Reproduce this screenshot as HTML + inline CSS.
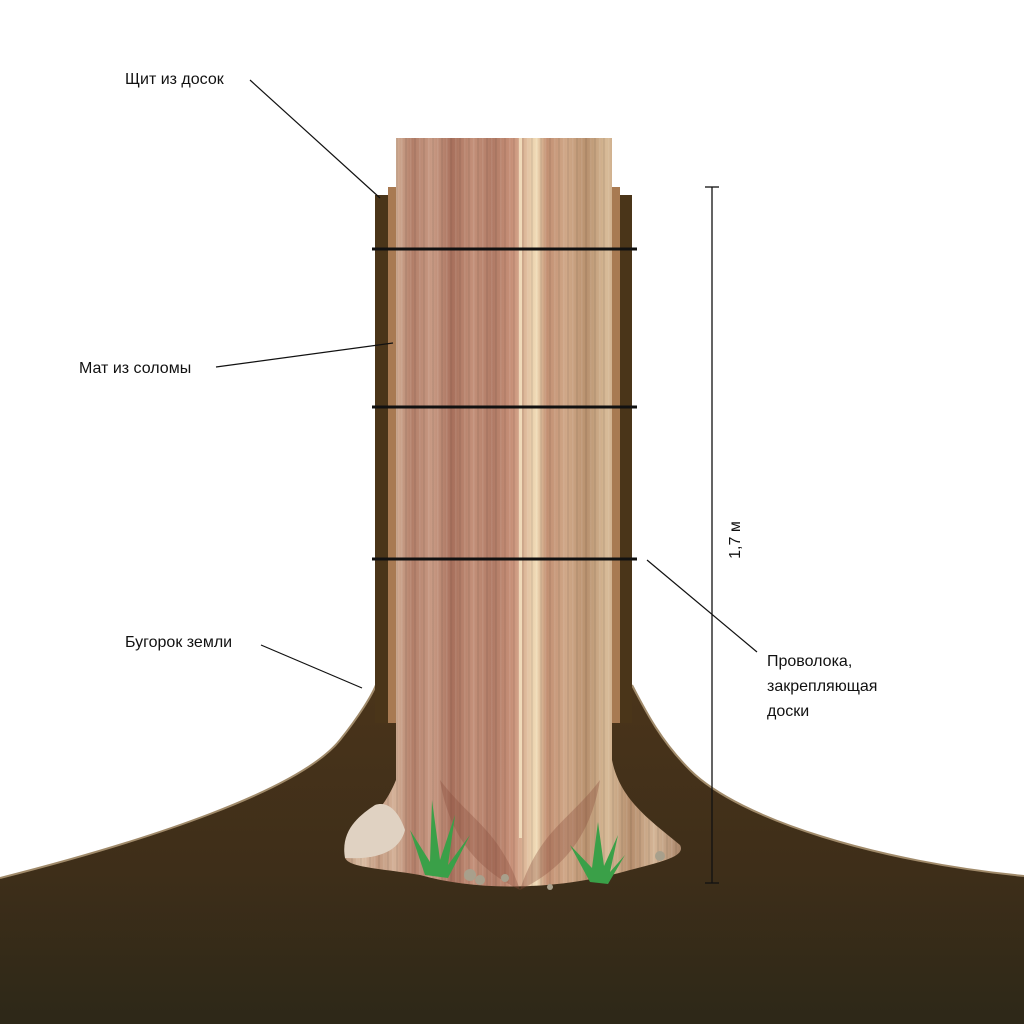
<!DOCTYPE html>
<html><head><meta charset="utf-8"><style>
html,body{margin:0;padding:0;background:#fff;}
svg{display:block;}
text{font-family:"Liberation Sans",sans-serif;font-size:16px;fill:#111;}
</style></head><body>
<svg width="1024" height="1024" viewBox="0 0 1024 1024" xmlns="http://www.w3.org/2000/svg">
<defs>
<linearGradient id="gnd" x1="0" y1="0" x2="0" y2="1">
<stop offset="0" stop-color="#4a341a"/><stop offset="0.55" stop-color="#3e2e19"/><stop offset="1" stop-color="#2d2818"/>
</linearGradient>
<linearGradient id="trk" x1="0" y1="0" x2="1" y2="0">
<stop offset="0" stop-color="#b89276"/><stop offset="0.05" stop-color="#dcbfa5"/><stop offset="0.1" stop-color="#c39a80"/>
<stop offset="0.15" stop-color="#d4b198"/><stop offset="0.2" stop-color="#b27e68"/><stop offset="0.26" stop-color="#c99b85"/>
<stop offset="0.32" stop-color="#a8705c"/><stop offset="0.38" stop-color="#c39079"/><stop offset="0.44" stop-color="#b07a65"/>
<stop offset="0.5" stop-color="#c9927a"/><stop offset="0.57" stop-color="#f1ddb8"/><stop offset="0.6" stop-color="#c28f72"/>
<stop offset="0.66" stop-color="#d0a888"/><stop offset="0.72" stop-color="#b8916e"/><stop offset="0.78" stop-color="#d8bb98"/>
<stop offset="0.85" stop-color="#b58d6c"/><stop offset="0.92" stop-color="#d4b596"/><stop offset="1" stop-color="#a98569"/>
</linearGradient>
<pattern id="str" width="9" height="10" patternUnits="userSpaceOnUse">
<rect x="0" width="2" height="10" fill="#000" opacity="0.06"/><rect x="5" width="1.5" height="10" fill="#fff" opacity="0.08"/>
</pattern>
</defs>
<path d="M0 878 C150 840 300 790 340 740 C360 715 372 695 376 685 L632 685 C645 710 660 740 690 770 C740 820 880 862 1024 876 L1024 1024 L0 1024 Z" fill="url(#gnd)"/>
<path d="M0 878 C150 840 300 790 340 740 C360 715 372 695 376 685" fill="none" stroke="#a08a6a" stroke-width="2"/>
<path d="M632 685 C645 710 660 740 690 770 C740 820 880 862 1024 876" fill="none" stroke="#a08a6a" stroke-width="2"/>
<rect x="375" y="195" width="13" height="528" fill="#4a3519"/>
<rect x="388" y="187" width="10" height="536" fill="#a87a52"/>
<rect x="620" y="195" width="12" height="528" fill="#4a3519"/>
<rect x="610" y="187" width="10" height="536" fill="#a87a52"/>
<path d="M396 138 L612 138 L612 760 C620 800 650 820 680 845 C685 855 670 860 630 870 C560 890 480 892 420 875 C380 868 350 868 345 858 C345 840 380 820 396 780 Z" fill="url(#trk)"/>
<path d="M396 138 L612 138 L612 760 C620 800 650 820 680 845 C685 855 670 860 630 870 C560 890 480 892 420 875 C380 868 350 868 345 858 C345 840 380 820 396 780 Z" fill="url(#str)"/>
<path d="M440 780 C470 820 500 830 520 890 C540 830 570 820 600 780 C590 840 560 870 520 890 C480 870 450 840 440 780 Z" fill="#8a4c3c" opacity="0.35"/>
<rect x="519" y="138" width="3" height="700" fill="#f6e6c4" opacity="0.8"/>
<path d="M345 858 C340 830 360 815 375 805 C390 800 400 815 405 830 C400 850 380 860 345 858 Z" fill="#e0d2c2"/>
<g fill="#3aa048">
<path d="M425 875 L410 830 L430 862 L432 800 L440 860 L455 815 L448 865 L470 835 L448 878 Z"/>
<path d="M590 882 L570 845 L592 868 L598 822 L604 866 L618 835 L610 872 L625 855 L608 884 Z"/>
</g>
<g fill="#a8a08c"><circle cx="470" cy="875" r="6"/><circle cx="480" cy="880" r="5"/><circle cx="505" cy="878" r="4"/><circle cx="660" cy="856" r="5"/><circle cx="550" cy="887" r="3"/></g>
<g stroke="#111" stroke-width="3">
<line x1="372" y1="249" x2="637" y2="249"/><line x1="372" y1="407" x2="637" y2="407"/><line x1="372" y1="559" x2="637" y2="559"/>
</g>
<g stroke="#111" stroke-width="1.3">
<line x1="712" y1="187" x2="712" y2="883"/><line x1="705" y1="187" x2="719" y2="187"/><line x1="705" y1="883" x2="719" y2="883"/>
</g>
<text transform="translate(740,540) rotate(-90)" text-anchor="middle">1,7 м</text>
<g stroke="#111" stroke-width="1.2">
<line x1="250" y1="80" x2="380" y2="198"/>
<line x1="216" y1="367" x2="393" y2="343"/>
<line x1="261" y1="645" x2="362" y2="688"/>
<line x1="647" y1="560" x2="757" y2="652"/>
</g>
<text x="125" y="84">Щит из досок</text>
<text x="79" y="373">Мат из соломы</text>
<text x="125" y="647">Бугорок земли</text>
<text x="767" y="666">Проволока,</text>
<text x="767" y="691">закрепляющая</text>
<text x="767" y="716">доски</text>
</svg>
</body></html>
